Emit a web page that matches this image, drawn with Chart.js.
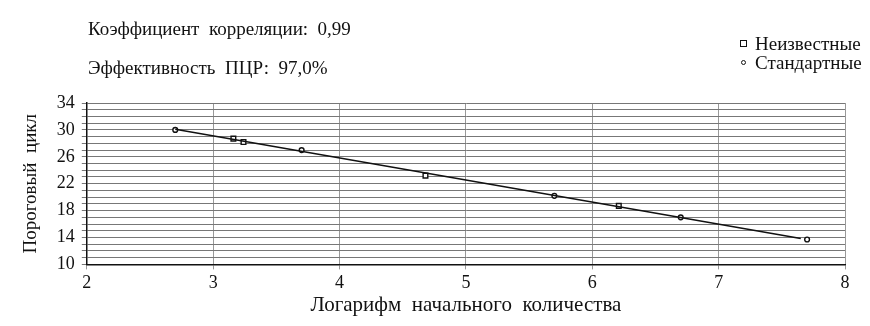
<!DOCTYPE html>
<html>
<head>
<meta charset="utf-8">
<script src="https://cdn.jsdelivr.net/npm/chart.js@4"></script>
<style>
  body { margin: 0; background: #fff; }
  #wrap { position: relative; width: 870px; height: 326px; }
  .note { position: absolute; font-family: "Liberation Serif", serif; font-size: 19px; color: #111; white-space: nowrap; }
  .legend { position: absolute; left: 740px; top: 34px; font-family: "Liberation Serif", serif; font-size: 19px; color: #111; line-height: 19px; }
  .legend div { white-space: nowrap; }
  .sq { display: inline-block; width: 5px; height: 5px; border: 1.4px solid #111; margin-right: 8px; vertical-align: 3px; }
  .ci { display: inline-block; width: 3px; height: 3px; border: 1.3px solid #111; border-radius: 50%; margin: 0 9px 0 1px; vertical-align: 4px; }
</style>
</head>
<body>
<div id="wrap">
  <canvas id="chart" width="870" height="326"></canvas>
  <div class="note" style="left:88px; top:18px;">Коэффициент&nbsp; корреляции:&nbsp; 0,99</div>
  <div class="note" style="left:88px; top:57px;">Эффективность&nbsp; ПЦР:&nbsp; 97,0%</div>
  <div class="legend">
    <div><span class="sq"></span>Неизвестные</div>
    <div><span class="ci"></span>Стандартные</div>
  </div>
</div>
<script>
const unknownX = [3.16, 3.24, 4.68, 6.21];
const unknownY = [28.7, 28.2, 23.2, 18.7];

const standardX = [2.7, 3.7, 5.7, 6.7, 7.7];
const standardY = [30.0, 27.0, 20.2, 17.0, 13.7];

const fitX = [2.7, 7.65];
const fitY = [30.1, 13.85];

const yLabels = [10, 14, 18, 22, 26, 30, 34];

const toPoints = (xs, ys) => xs.map((x, i) => ({ x: x, y: ys[i] }));

const serif = "'Liberation Serif', serif";

new Chart(document.getElementById("chart").getContext("2d"), {
  type: "scatter",
  data: {
    datasets: [
      {
        label: "Линия",
        type: "line",
        data: toPoints(fitX, fitY),
        borderColor: "#111",
        borderWidth: 1.4,
        pointRadius: 0,
        fill: false,
      },
      {
        label: "Неизвестные",
        data: toPoints(unknownX, unknownY),
        pointStyle: "rect",
        pointRadius: 3.3,
        borderColor: "#111",
        borderWidth: 1.4,
        backgroundColor: "#fff",
      },
      {
        label: "Стандартные",
        data: toPoints(standardX, standardY),
        pointStyle: "circle",
        pointRadius: 2.4,
        borderColor: "#111",
        borderWidth: 1.4,
        backgroundColor: "#fff",
      },
    ],
  },
  options: {
    responsive: false,
    animation: false,
    layout: { padding: { top: 103, left: 16, right: 25, bottom: 10 } },
    plugins: {
      legend: { display: false },
      tooltip: { enabled: false },
    },
    scales: {
      x: {
        type: "linear",
        min: 2,
        max: 8,
        ticks: { stepSize: 1, color: "#111", font: { family: serif, size: 18 }, padding: 3 },
        grid: { color: "#999", lineWidth: 1, tickLength: 5 },
        border: { color: "#111", width: 1.5 },
        title: {
          display: true,
          text: "Логарифм  начального  количества",
          color: "#111",
          font: { family: serif, size: 21, lineHeight: 1 },
          padding: { top: -2, bottom: 0 },
        },
      },
      y: {
        min: 10,
        max: 34,
        ticks: {
          stepSize: 1,
          autoSkip: false,
          color: "#111",
          font: { family: serif, size: 18 },
          padding: 7,
          callback: (v) => (yLabels.includes(v) ? v : ""),
        },
        grid: { color: "#777", lineWidth: 1, tickLength: 5, borderDash: [2, 1] },
        border: { color: "#111", width: 1.5 },
        title: {
          display: true,
          text: "Пороговый  цикл",
          color: "#111",
          font: { family: serif, size: 19, lineHeight: 1.2 },
          padding: { top: 4, bottom: 7 },
        },
      },
    },
  },
});
</script>
</body>
</html>
